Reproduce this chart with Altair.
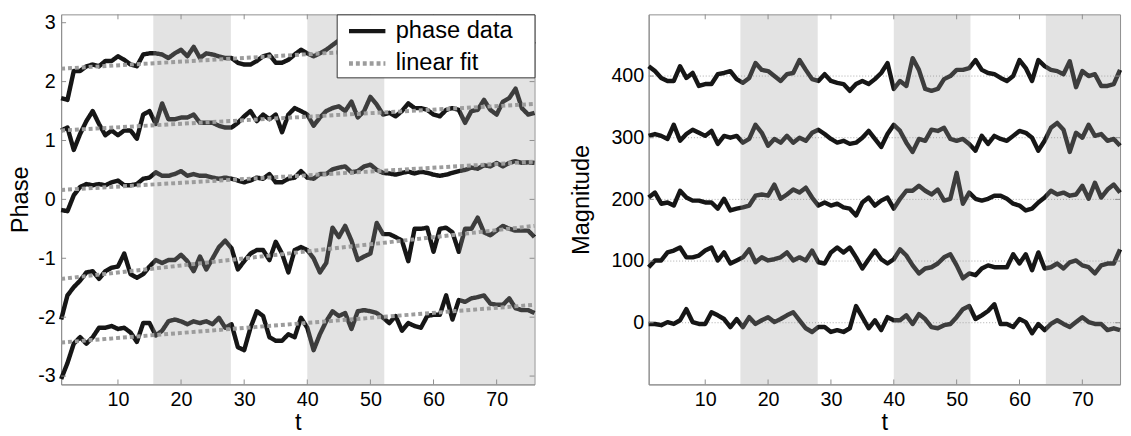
import altair as alt
import pandas as pd

# ---------------- data ----------------
t_values = list(range(1, 77))

phase_1 = [1.72, 1.69, 2.18, 2.18, 2.26, 2.29, 2.26, 2.35, 2.35, 2.43,
           2.37, 2.29, 2.26, 2.46, 2.48, 2.48, 2.46, 2.40, 2.48, 2.54,
           2.43, 2.59, 2.40, 2.48, 2.46, 2.43, 2.40, 2.40, 2.32, 2.29,
           2.29, 2.35, 2.43, 2.46, 2.32, 2.32, 2.37, 2.46, 2.54, 2.48,
           2.43, 2.48, 2.54, 2.62, 2.70, 2.58, 2.52, 2.60, 2.55, 2.66,
           2.58, 2.50, 2.57, 2.62, 2.55, 2.48, 2.60, 2.66, 2.58, 2.52,
           2.61, 2.70, 2.63, 2.56, 2.64, 2.72, 2.65, 2.58, 2.66, 2.73,
           2.64, 2.60, 2.68, 2.75, 2.70, 2.63]
phase_2 = [1.17, 1.22, 0.84, 1.11, 1.33, 1.50, 1.28, 1.09, 1.17, 1.09,
           1.17, 1.17, 1.03, 1.44, 1.50, 1.28, 1.63, 1.36, 1.36, 1.39,
           1.39, 1.44, 1.30, 1.30, 1.30, 1.25, 1.22, 1.22, 1.30, 1.41,
           1.50, 1.33, 1.44, 1.36, 1.44, 1.14, 1.44, 1.55, 1.50, 1.44,
           1.25, 1.39, 1.50, 1.55, 1.58, 1.50, 1.66, 1.39, 1.50, 1.74,
           1.61, 1.44, 1.47, 1.41, 1.50, 1.63, 1.55, 1.55, 1.52, 1.44,
           1.41, 1.52, 1.55, 1.52, 1.30, 1.50, 1.52, 1.69, 1.52, 1.44,
           1.66, 1.72, 1.88, 1.55, 1.44, 1.47]
phase_3 = [-0.18, -0.20, 0.07, 0.21, 0.26, 0.24, 0.26, 0.24, 0.29, 0.32,
           0.24, 0.24, 0.26, 0.35, 0.37, 0.46, 0.40, 0.40, 0.43, 0.48,
           0.40, 0.43, 0.40, 0.40, 0.37, 0.35, 0.37, 0.35, 0.32, 0.29,
           0.32, 0.37, 0.35, 0.43, 0.29, 0.29, 0.35, 0.37, 0.48, 0.37,
           0.35, 0.43, 0.43, 0.51, 0.54, 0.56, 0.46, 0.48, 0.56, 0.59,
           0.50, 0.45, 0.44, 0.42, 0.45, 0.47, 0.44, 0.47, 0.45, 0.42,
           0.40, 0.42, 0.45, 0.48, 0.50, 0.54, 0.52, 0.58, 0.56, 0.62,
           0.56, 0.62, 0.65, 0.62, 0.63, 0.62]
phase_4 = [-2.04, -1.63, -1.49, -1.38, -1.24, -1.22, -1.35, -1.22, -1.16, -1.14,
           -0.92, -1.27, -1.33, -1.27, -1.14, -1.03, -1.08, -1.03, -1.03, -0.94,
           -1.05, -1.22, -0.97, -1.19, -1.00, -0.81, -0.70, -0.83, -1.19, -1.05,
           -0.92, -0.86, -0.86, -1.03, -0.72, -0.92, -1.24, -0.86, -0.81, -0.86,
           -1.00, -1.24, -1.08, -0.48, -0.64, -0.45, -0.70, -1.03, -0.97, -0.92,
           -0.40, -0.59, -0.59, -0.64, -0.70, -1.05, -0.50, -0.50, -0.48, -0.89,
           -0.50, -0.48, -0.56, -0.89, -0.50, -0.50, -0.31, -0.56, -0.61, -0.53,
           -0.45, -0.50, -0.53, -0.53, -0.53, -0.64]
phase_5 = [-3.05, -2.78, -2.45, -2.34, -2.45, -2.34, -2.18, -2.18, -2.15, -2.20,
           -2.18, -2.26, -2.42, -2.10, -2.10, -2.31, -2.23, -2.07, -2.04, -2.07,
           -2.12, -2.07, -2.10, -2.07, -2.12, -2.01, -2.18, -2.12, -2.51, -2.56,
           -2.18, -1.90, -1.98, -2.34, -2.40, -2.40, -2.29, -2.34, -2.01, -2.18,
           -2.56, -2.29, -2.07, -1.90, -1.98, -1.93, -2.20, -1.90, -1.88, -1.90,
           -1.93, -2.01, -2.10, -1.98, -2.23, -2.10, -2.15, -2.18, -1.98, -1.96,
           -1.96, -1.63, -2.04, -1.71, -1.74, -1.68, -1.66, -1.63, -1.77, -1.79,
           -1.79, -1.68, -1.85, -1.88, -1.88, -1.93]

fit_start = [2.22, 1.17, 0.16, -1.35, -2.43]
fit_end = [2.69, 1.62, 0.64, -0.45, -1.79]

mag_400 = [416, 408, 397, 392, 392, 416, 397, 405, 384, 387,
           387, 403, 405, 408, 395, 389, 397, 421, 410, 408,
           400, 392, 403, 405, 426, 410, 395, 392, 403, 392,
           389, 387, 376, 387, 392, 387, 395, 405, 421, 379,
           392, 384, 429, 410, 379, 376, 379, 395, 400, 410,
           410, 413, 426, 410, 405, 403, 397, 392, 400, 426,
           413, 392, 426, 416, 410, 408, 403, 424, 382, 408,
           400, 403, 384, 384, 387, 410]
mag_300 = [303, 306, 303, 298, 321, 295, 306, 313, 308, 303,
           311, 290, 303, 300, 303, 292, 298, 321, 308, 287,
           298, 292, 303, 292, 300, 295, 308, 313, 306, 298,
           292, 295, 290, 292, 300, 311, 298, 285, 306, 321,
           311, 292, 277, 298, 295, 313, 311, 316, 298, 295,
           298, 290, 279, 303, 290, 303, 298, 295, 303, 311,
           308, 300, 279, 295, 316, 324, 313, 277, 308, 300,
           321, 303, 306, 295, 298, 287]
mag_200 = [203, 211, 193, 195, 190, 214, 203, 198, 198, 195,
           195, 185, 201, 182, 185, 187, 190, 206, 208, 206,
           224, 201, 208, 216, 211, 219, 203, 190, 195, 190,
           193, 187, 185, 174, 195, 203, 190, 198, 203, 185,
           201, 214, 214, 222, 214, 208, 216, 198, 201, 243,
           193, 211, 201, 198, 201, 206, 206, 201, 193, 190,
           182, 185, 195, 203, 214, 208, 211, 206, 208, 222,
           201, 227, 203, 216, 224, 211]
mag_100 = [90, 101, 101, 114, 117, 122, 106, 106, 109, 117,
           122, 101, 114, 96, 101, 106, 119, 98, 106, 101,
           103, 106, 114, 101, 106, 101, 117, 98, 96, 114,
           122, 114, 122, 106, 88, 103, 117, 103, 96, 103,
           119, 109, 93, 80, 88, 90, 96, 106, 111, 93,
           72, 80, 77, 88, 93, 90, 90, 90, 111, 96,
           111, 85, 114, 88, 90, 96, 88, 98, 101, 93,
           90, 80, 93, 96, 96, 119]
mag_0 = [-2, -2, -4, 1, -2, 4, 22, 1, -2, -2,
         17, 12, 6, -7, 6, -7, 9, -2, 4, 9,
         1, 6, 12, 17, 4, -9, -15, -7, -7, -15,
         -12, -15, -9, 27, 9, -9, 4, -12, 9, 4,
         4, 12, -2, 14, 6, -7, -9, -4, -2, 9,
         22, 27, 6, 12, 19, 30, -2, -2, -7, 6,
         1, -17, -2, -12, -2, 4, -2, -7, 1, 9,
         1, -2, -2, -12, -9, -12]
mag_baselines = [400, 300, 200, 100, 0]

shade_start = [15.6, 40.0, 64.2]
shade_end = [27.9, 52.2, 76.0]

x_ticks = [10, 20, 30, 40, 50, 60, 70]
phase_ticks = [-3, -2, -1, 0, 1, 2, 3]
mag_ticks = [0, 100, 200, 300, 400]

legend_labels = ["phase data", "linear fit"]

# ---------------- tables ----------------
phase_series = [phase_1, phase_2, phase_3, phase_4, phase_5]
mag_series = [mag_400, mag_300, mag_200, mag_100, mag_0]

phase_rows = []
for i, s in enumerate(phase_series):
    for tt, v in zip(t_values, s):
        phase_rows.append({"t": tt, "value": v, "series": f"p{i}", "kind": legend_labels[0]})
phase_df = pd.DataFrame(phase_rows)

fit_rows = []
for i, (a, b) in enumerate(zip(fit_start, fit_end)):
    fit_rows.append({"t": t_values[0], "value": a, "series": f"f{i}", "kind": legend_labels[1]})
    fit_rows.append({"t": t_values[-1], "value": b, "series": f"f{i}", "kind": legend_labels[1]})
fit_df = pd.DataFrame(fit_rows)

mag_rows = []
for i, s in enumerate(mag_series):
    for tt, v in zip(t_values, s):
        mag_rows.append({"t": tt, "value": v, "series": f"m{i}"})
mag_df = pd.DataFrame(mag_rows)

shade_df = pd.DataFrame({"start": shade_start, "end": shade_end})
base_df = pd.DataFrame({"base": mag_baselines})
xtick_df = pd.DataFrame({"tick": x_ticks})
ptick_df = pd.DataFrame({"tick": phase_ticks})
mtick_df = pd.DataFrame({"tick": mag_ticks})

# ---------------- style ----------------
W1, W2, H = 481, 479, 376
AX = "#8e8e8e"
LINE = "#161616"
FIT = "#9c9c9c"
FONT = "Liberation Sans"
TL = 5  # inward tick length
HYPHEN = "replace(datum.label, '\u2212', '-')"
# pad legend labels on the right (nbsp + zero-width char so it is not trimmed)
LEG_PAD = "datum.label + '\u00a0\u00a0\u00a0\u200b'"

xscale = alt.Scale(domain=[1, 76], nice=False, zero=False)
pscale = alt.Scale(domain=[-3.1416, 3.1416], nice=False, zero=False)
mscale = alt.Scale(domain=[-100, 500], nice=False, zero=False)

xaxis = alt.Axis(values=x_ticks, ticks=False, labelPadding=5, titlePadding=2,
                 grid=False, labelFlush=False, domainColor=AX)
paxis = alt.Axis(values=phase_ticks, ticks=False, labelPadding=6, titlePadding=5,
                 grid=False, labelFlush=False, domainColor=AX, labelExpr=HYPHEN)
maxis = alt.Axis(values=mag_ticks, ticks=False, labelPadding=5, titlePadding=18,
                 grid=False, labelFlush=False, domainColor=AX)


def X(field):
    return alt.X(f"{field}:Q", scale=xscale, axis=xaxis, title="t")


def shade_layer():
    return alt.Chart(shade_df).mark_rect(color="#9f9f9f", opacity=0.29).encode(
        x=X("start"), x2="end:Q")


def tick_layers(tick_df, yscale, yaxis, ytitle, width):
    xt_top = alt.Chart(xtick_df).mark_rule(color=AX, strokeWidth=1).encode(
        x=X("tick"), y=alt.value(0), y2=alt.value(TL))
    xt_bot = alt.Chart(xtick_df).mark_rule(color=AX, strokeWidth=1).encode(
        x=X("tick"), y=alt.value(H - TL), y2=alt.value(H))
    yt_left = alt.Chart(tick_df).mark_rule(color=AX, strokeWidth=1).encode(
        y=alt.Y("tick:Q", scale=yscale, axis=yaxis, title=ytitle),
        x=alt.value(0), x2=alt.value(TL))
    yt_right = alt.Chart(tick_df).mark_rule(color=AX, strokeWidth=1).encode(
        y=alt.Y("tick:Q", scale=yscale, axis=yaxis, title=ytitle),
        x=alt.value(width - TL), x2=alt.value(width))
    return [xt_top, xt_bot, yt_left, yt_right]


legend = alt.Legend(orient="none", legendX=280, legendY=0,
                    fillColor="white", strokeColor="#333333", padding=2,
                    labelFont=FONT, labelFontSize=24, labelColor="black",
                    labelExpr=LEG_PAD,
                    symbolType="M-1.5,0L1.5,0", symbolSize=608, symbolStrokeWidth=4.5,
                    rowPadding=6, labelOffset=14, symbolOffset=14)

color_enc = alt.Color("kind:N", title=None,
                      scale=alt.Scale(domain=legend_labels, range=[LINE, FIT]),
                      legend=legend)
dash_enc = alt.StrokeDash("kind:N", title=None,
                          scale=alt.Scale(domain=legend_labels, range=[[1, 0], [4, 3]]),
                          legend=legend)

phase_lines = alt.Chart(phase_df).mark_line(strokeWidth=4.5, strokeJoin="round").encode(
    x=X("t"),
    y=alt.Y("value:Q", scale=pscale, axis=paxis, title="Phase"),
    detail="series:N", color=color_enc, strokeDash=dash_enc, order="t:Q")

fit_lines = alt.Chart(fit_df).mark_line(strokeWidth=4).encode(
    x=X("t"),
    y=alt.Y("value:Q", scale=pscale, axis=paxis, title="Phase"),
    detail="series:N", color=color_enc, strokeDash=dash_enc, order="t:Q")

left = alt.layer(phase_lines, fit_lines, shade_layer(),
                 *tick_layers(ptick_df, pscale, paxis, "Phase", W1)
                 ).properties(width=W1, height=H)

base_lines = alt.Chart(base_df).mark_rule(color="#a8a8a8", strokeWidth=1,
                                          strokeDash=[1, 2]).encode(
    y=alt.Y("base:Q", scale=mscale, axis=maxis, title="Magnitude"))

mag_lines = alt.Chart(mag_df).mark_line(strokeWidth=4.5, strokeJoin="round",
                                        color=LINE).encode(
    x=X("t"),
    y=alt.Y("value:Q", scale=mscale, axis=maxis, title="Magnitude"),
    detail="series:N", order="t:Q")

right = alt.layer(base_lines, mag_lines, shade_layer(),
                  *tick_layers(mtick_df, mscale, maxis, "Magnitude", W2)
                  ).properties(width=W2, height=H)

chart = alt.hconcat(left, right, spacing=26).resolve_scale(
    color="independent", strokeDash="independent"
).resolve_legend(
    color="independent", strokeDash="independent"
).properties(
    padding={"left": 0, "top": 0, "right": 0, "bottom": 0}
).configure_axis(
    labelFont=FONT, labelFontSize=20, labelColor="black",
    titleFont=FONT, titleFontSize=24, titleFontWeight="normal", titleColor="black",
    domainWidth=1
).configure_view(stroke=AX, strokeWidth=1)

chart.save("out.html", embed_options={"renderer": "svg", "actions": False})
